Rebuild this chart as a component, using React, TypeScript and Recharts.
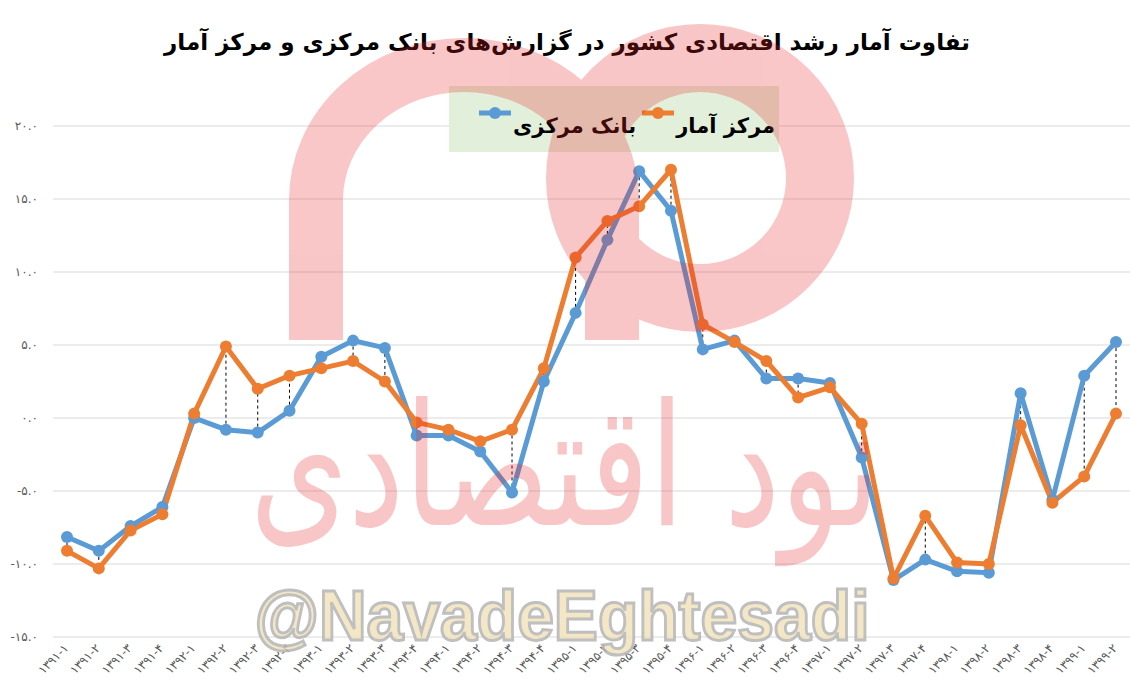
import React from 'react';
import { LineChart, Line, XAxis, YAxis, CartesianGrid, ReferenceLine, Legend } from 'recharts';

const periods = [
  '1391-1', '1391-2', '1391-3', '1391-4',
  '1392-1', '1392-2', '1392-3', '1392-4',
  '1393-1', '1393-2', '1393-3', '1393-4',
  '1394-1', '1394-2', '1394-3', '1394-4',
  '1395-1', '1395-2', '1395-3', '1395-4',
  '1396-1', '1396-2', '1396-3', '1396-4',
  '1397-1', '1397-2', '1397-3', '1397-4',
  '1398-1', '1398-2', '1398-3', '1398-4',
  '1399-1', '1399-2',
];

// بانک مرکزی
const centralBank = [
  -8.15, -9.1, -7.4, -6.1,
  0.0, -0.8, -1.0, 0.5,
  4.2, 5.3, 4.8, -1.2,
  -1.2, -2.3, -5.1, 2.5,
  7.2, 12.2, 16.9, 14.2,
  4.7, 5.3, 2.7, 2.7,
  2.4, -2.7, -11.1, -9.7,
  -10.5, -10.6, 1.7, -5.6,
  2.9, 5.2,
];

// مرکز آمار
const statCenter = [
  -9.1, -10.3, -7.7, -6.6,
  0.3, 4.9, 2.0, 2.9,
  3.4, 3.9, 2.5, -0.3,
  -0.8, -1.6, -0.8, 3.4,
  11.0, 13.5, 14.5, 17.0,
  6.4, 5.2, 3.9, 1.4,
  2.1, -0.4, -11.0, -6.7,
  -9.9, -10.0, -0.5, -5.8,
  -4.0, 0.3,
];

const yTicks = [-15, -10, -5, 0, 5, 10, 15, 20];

const BLUE = '#5B9BD5';
const ORANGE = '#ED7D31';

const data = periods.map((p, i) => ({ period: p, bank: centralBank[i], stat: statCenter[i] }));

const toFa = (s: string) => s.replace(/\d/g, (d) => '۰۱۲۳۴۵۶۷۸۹'[Number(d)]);

const XTick = (props: any) => {
  const { x, y, payload } = props;
  return (
    <g transform={`translate(${x + 2},${y + 4})`}>
      <text textAnchor="end" transform="rotate(-45)" fontSize={12} fill="#595959" fontFamily="DejaVu Sans">
        {toFa(payload.value)}
      </text>
    </g>
  );
};

const YTick = (props: any) => {
  const { y, payload } = props;
  return (
    <text x={38} y={y} dy={4} textAnchor="end" fontSize={12} fill="#595959" fontFamily="DejaVu Sans">
      {toFa(Number(payload.value).toFixed(1))}
    </text>
  );
};

const Marker = ({ color }: { color: string }) => (
  <svg width={32} height={14} style={{ alignSelf: 'flex-start', marginTop: 6 }}>
    <line x1={0} y1={7} x2={32} y2={7} stroke={color} strokeWidth={5} />
    <circle cx={16} cy={7} r={6} fill={color} />
  </svg>
);

const renderLegend = () => {
  const items = [
    { name: 'مرکز آمار', color: ORANGE },
    { name: 'بانک مرکزی', color: BLUE },
  ];
  return (
    <div
      style={{
        width: 330,
        height: 66,
        background: '#e2efda',
        display: 'flex',
        direction: 'rtl',
        alignItems: 'center',
        justifyContent: 'flex-start',
        paddingRight: 4,
        boxSizing: 'border-box',
      }}
    >
      {items.map((it) => (
        <div key={it.name} style={{ display: 'flex', alignItems: 'center', marginLeft: 6 }}>
          <span
            style={{
              fontFamily: 'DejaVu Sans',
              fontWeight: 'bold',
              fontSize: 21,
              color: '#000',
              marginTop: 14,
              marginLeft: 2,
            }}
          >
            {it.name}
          </span>
          <Marker color={it.color} />
        </div>
      ))}
    </div>
  );
};

export default function App() {
  return (
    <div style={{ position: 'fixed', left: 0, top: 0, width: 1130, height: 697, background: '#fff' }}>
      <LineChart width={1130} height={697} data={data} margin={{ top: 126, right: 0, bottom: 0, left: 0 }}>
        <CartesianGrid vertical={false} stroke="#d9d9d9" />
        <XAxis
          dataKey="period"
          axisLine={false}
          tickLine={false}
          interval={0}
          height={60}
          padding={{ left: 14, right: 14 }}
          tick={<XTick />}
        />
        <YAxis
          domain={[-15, 20]}
          ticks={yTicks}
          axisLine={false}
          tickLine={false}
          width={53}
          tick={<YTick />}
        />
        <Legend
          verticalAlign="middle"
          content={renderLegend}
          wrapperStyle={{ position: 'absolute', left: 449, top: 86, width: 330, height: 66 }}
        />
        {data.map((d) => (
          <ReferenceLine
            key={d.period}
            segment={[
              { x: d.period, y: d.bank },
              { x: d.period, y: d.stat },
            ]}
            stroke="#000"
            strokeDasharray="3 3"
            strokeWidth={1}
          />
        ))}
        <Line
          dataKey="bank"
          name="بانک مرکزی"
          stroke={BLUE}
          strokeWidth={5}
          dot={{ r: 6, fill: BLUE, stroke: 'none' }}
          isAnimationActive={false}
        />
        <Line
          dataKey="stat"
          name="مرکز آمار"
          stroke={ORANGE}
          strokeWidth={5}
          dot={{ r: 6, fill: ORANGE, stroke: 'none' }}
          isAnimationActive={false}
        />
      </LineChart>
      <svg
        width={1130}
        height={697}
        style={{ position: 'absolute', left: 0, top: 0, pointerEvents: 'none' }}
      >
        <text
          x={567}
          y={50}
          textAnchor="middle"
          direction="rtl"
          fontFamily="DejaVu Sans"
          fontWeight="bold"
          fontSize={23}
          fill="#000"
        >
          تفاوت آمار رشد اقتصادی کشور در گزارش‌های بانک مرکزی و مرکز آمار
        </text>
        <g opacity={0.26} fill="#e62828">
          <path d="M 316 340 V 200 A 148 135 0 0 1 612 200 V 340" fill="none" stroke="#e62828" strokeWidth={54} />
          <circle cx={700} cy={178} r={120} fill="none" stroke="#e62828" strokeWidth={68} />
          <text
            x={565}
            y={525}
            textAnchor="middle"
            direction="rtl"
            fontFamily="DejaVu Sans"
            fontSize={170}
            textLength={630}
            lengthAdjust="spacingAndGlyphs"
          >
            نود اقتصادی
          </text>
        </g>
        <text
          x={562}
          y={640}
          textAnchor="middle"
          fontFamily="Liberation Sans"
          fontWeight="bold"
          fontSize={70}
          textLength={615}
          lengthAdjust="spacingAndGlyphs"
          fill="#f1e3bd"
          stroke="#b5b5b5"
          strokeWidth={3}
          opacity={0.85}
        >
          @NavadeEghtesadi
        </text>
      </svg>
    </div>
  );
}
